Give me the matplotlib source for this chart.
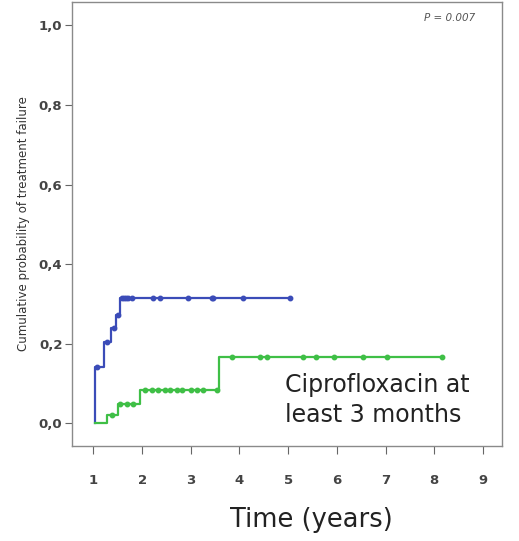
import matplotlib
matplotlib.use("Agg")
import matplotlib.pyplot as plt

# blue curve (step data)
blue_t = [1.03, 1.03, 1.21, 1.37, 1.47, 1.55, 5.04]
blue_p = [0.0, 0.143, 0.205, 0.239, 0.272, 0.314, 0.314]
blue_cens_t = [1.08, 1.27, 1.42, 1.51, 1.58, 1.62, 1.67, 1.72, 1.79, 2.22, 2.37, 2.95, 3.43, 3.46, 4.08, 5.04]
blue_cens_p = [0.143, 0.205, 0.239, 0.272, 0.314, 0.314, 0.314, 0.314, 0.314, 0.314, 0.314, 0.314, 0.314, 0.314, 0.314, 0.314]

# green curve
green_t = [1.03, 1.27, 1.51, 1.96, 3.57, 8.15]
green_p = [0.0, 0.021, 0.05, 0.084, 0.168, 0.168]
green_cens_t = [1.38, 1.55, 1.69, 1.82, 2.06, 2.2, 2.33, 2.47, 2.57, 2.71, 2.82, 3.0, 3.12, 3.25, 3.53,
                3.84, 4.42, 4.57, 5.31, 5.57, 5.94, 6.53, 7.04, 8.15]
green_cens_p = [0.021, 0.05, 0.05, 0.05] + [0.084] * 11 + [0.168] * 9

xticks = [1, 2, 3, 4, 5, 6, 7, 8, 9]
yticks = [0.0, 0.2, 0.4, 0.6, 0.8, 1.0]
ylabels = ["0,0", "0,2", "0,4", "0,6", "0,8", "1,0"]

blue = "#3b4cb8"
green = "#3fbf46"

fig = plt.figure(figsize=(5.19, 5.41), dpi=100)
ax = fig.add_axes([0.139, 0.176, 0.828, 0.820])

ax.step(blue_t, blue_p, where="post", color=blue, lw=1.6)
ax.plot(blue_cens_t, blue_cens_p, "o", color=blue, ms=3.2, ls="none")
ax.step(green_t, green_p, where="post", color=green, lw=1.6)
ax.plot(green_cens_t, green_cens_p, "o", color=green, ms=3.2, ls="none")

ax.set_xlim(0.563, 9.39)
ax.set_ylim(-0.056, 1.058)
ax.set_xticks(xticks)
ax.set_xticklabels([str(x) for x in xticks])
ax.set_yticks(yticks)
ax.set_yticklabels(ylabels)

for s in ax.spines.values():
    s.set_color("#8a8a8a")
    s.set_linewidth(1.0)

ax.tick_params(axis="y", direction="out", length=5, color="#666666", labelsize=9.5,
               labelcolor="#444444", pad=2)
ax.tick_params(axis="x", direction="out", length=6, color="#666666", labelsize=9.5,
               labelcolor="#444444", pad=14)
for lab in ax.get_xticklabels() + ax.get_yticklabels():
    lab.set_fontweight("semibold")

ax.set_ylabel("Cumulative probability of treatment failure", fontsize=8.5, color="#333333", labelpad=6)
fig.text(311 / 519, 1 - 520 / 541, "Time (years)", ha="center", va="center",
         fontsize=18.5, color="#222222")

ax.text(0.937, 0.975, "P = 0.007", transform=ax.transAxes, ha="right", va="top",
        fontsize=7.5, style="italic", color="#555555")
ax.text(0.495, 0.1216, "Ciprofloxacin at", transform=ax.transAxes, ha="left", va="baseline",
        fontsize=17, color="#222222")
ax.text(0.495, 0.054, "least 3 months", transform=ax.transAxes, ha="left", va="baseline",
        fontsize=17, color="#222222")

fig.savefig("out.png", dpi=100)
